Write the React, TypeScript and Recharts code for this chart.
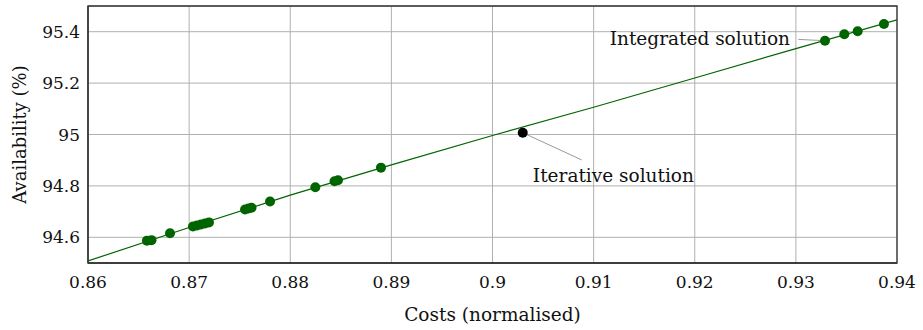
import React from "react";
import {
  ScatterChart,
  Scatter,
  XAxis,
  YAxis,
  CartesianGrid,
  ReferenceArea,
  ReferenceLine,
  ReferenceDot,
  Label,
} from "recharts";

// pareto points (cost normalised, availability %)
const paretoCost = [
  0.86583, 0.86628, 0.86811, 0.87038, 0.87078, 0.87117, 0.87157, 0.87196,
  0.87553, 0.87587, 0.87617, 0.878, 0.88248, 0.88438, 0.88472, 0.88897,
  0.93288, 0.93479, 0.93611, 0.93871,
];
const paretoAvail = [
  94.587, 94.589, 94.616, 94.642, 94.646, 94.65, 94.654, 94.658,
  94.708, 94.712, 94.715, 94.739, 94.795, 94.818, 94.822, 94.871,
  95.365, 95.39, 95.402, 95.43,
];

// fitted trend line
const trendCost = [0.86, 0.87, 0.88, 0.89, 0.9, 0.91, 0.92, 0.93, 0.94];
const trendAvail = [94.508, 94.638, 94.764, 94.882, 94.996, 95.106, 95.22, 95.334, 95.446];

// iterative solution
const iterCost = [0.90299];
const iterAvail = [95.007];

const costTicks = [0.86, 0.87, 0.88, 0.89, 0.9, 0.91, 0.92, 0.93, 0.94];
const availTicks = [94.6, 94.8, 95, 95.2, 95.4];

const GREEN = "#006400";
const FONT = "'DejaVu Serif', serif";

const pareto = paretoCost.map((x, i) => ({ x, y: paretoAvail[i] }));
const trend = trendCost.map((x, i) => ({ x, y: trendAvail[i] }));
const iterative = iterCost.map((x, i) => ({ x, y: iterAvail[i] }));

const integratedPt = pareto[16];

const tickStyle = { fontFamily: FONT, fontSize: 17, fill: "#111" };
const textStyle = { fontFamily: FONT, fontSize: 18.5, fill: "#111" };

export default function App() {
  return (
    <div style={{ position: "absolute", left: 0, top: 0 }}>
      <ScatterChart
        width={923}
        height={330}
        margin={{ top: 6, right: 26, bottom: 37, left: 0 }}
      >
        <CartesianGrid stroke="#b0b0b0" strokeWidth={1} />
        <XAxis
          type="number"
          dataKey="x"
          domain={[0.86, 0.94]}
          ticks={costTicks}
          allowDataOverflow
          tickLine={false}
          tickMargin={7}
          height={30}
          axisLine={{ stroke: "#333", strokeWidth: 1.3 }}
          tick={{ style: tickStyle }}
          tickFormatter={(v: number) => String(v)}
        >
          <Label
            content={({ viewBox }: any) => (
              <text
                x={viewBox.x + viewBox.width / 2}
                y={321}
                textAnchor="middle"
                style={textStyle}
              >
                Costs (normalised)
              </text>
            )}
          />
        </XAxis>
        <YAxis
          type="number"
          dataKey="y"
          domain={[94.5, 95.5]}
          ticks={availTicks}
          allowDataOverflow
          width={88}
          tickLine={false}
          tickMargin={2}
          axisLine={{ stroke: "#333", strokeWidth: 1.3 }}
          tick={{ style: tickStyle }}
          tickFormatter={(v: number) => String(v)}
        >
          <Label
            content={({ viewBox }: any) => {
              const cx = 19;
              const cy = viewBox.y + viewBox.height / 2;
              return (
                <text
                  x={cx}
                  y={cy}
                  transform={`rotate(-90, ${cx}, ${cy})`}
                  textAnchor="middle"
                  dominantBaseline="central"
                  style={{ ...textStyle, fontSize: 18 }}
                >
                  Availability (%)
                </text>
              );
            }}
          />
        </YAxis>
        <ReferenceArea
          x1={0.86}
          x2={0.94}
          y1={94.5}
          y2={95.5}
          fill="none"
          stroke="#333"
          strokeWidth={1.3}
          fillOpacity={0}
        />
        <Scatter
          data={trend}
          line={{ stroke: GREEN, strokeWidth: 1.2 }}
          shape={() => <g />}
          isAnimationActive={false}
        />
        <ReferenceLine
          segment={[
            { x: integratedPt.x, y: integratedPt.y },
            { x: 0.93024, y: 95.37 },
          ]}
          stroke="#999"
          strokeWidth={1}
        />
        <ReferenceLine
          segment={[
            { x: iterative[0].x, y: iterative[0].y },
            { x: 0.90882, y: 94.901 },
          ]}
          stroke="#999"
          strokeWidth={1}
        />
        <Scatter
          data={pareto}
          fill={GREEN}
          shape={(p: any) => <circle cx={p.cx} cy={p.cy} r={5} fill={GREEN} />}
          isAnimationActive={false}
        />
        <Scatter
          data={iterative}
          fill="#000"
          shape={(p: any) => <circle cx={p.cx} cy={p.cy} r={5} fill="#000" />}
          isAnimationActive={false}
        />
        <ReferenceDot
          x={0.92942}
          y={95.348}
          r={0}
          shape={(p: any) => (
            <text x={p.cx} y={p.cy} textAnchor="end" style={textStyle}>
              Integrated solution
            </text>
          )}
        />
        <ReferenceDot
          x={0.90399}
          y={94.815}
          r={0}
          shape={(p: any) => (
            <text x={p.cx} y={p.cy} textAnchor="start" style={textStyle}>
              Iterative solution
            </text>
          )}
        />
      </ScatterChart>
    </div>
  );
}
